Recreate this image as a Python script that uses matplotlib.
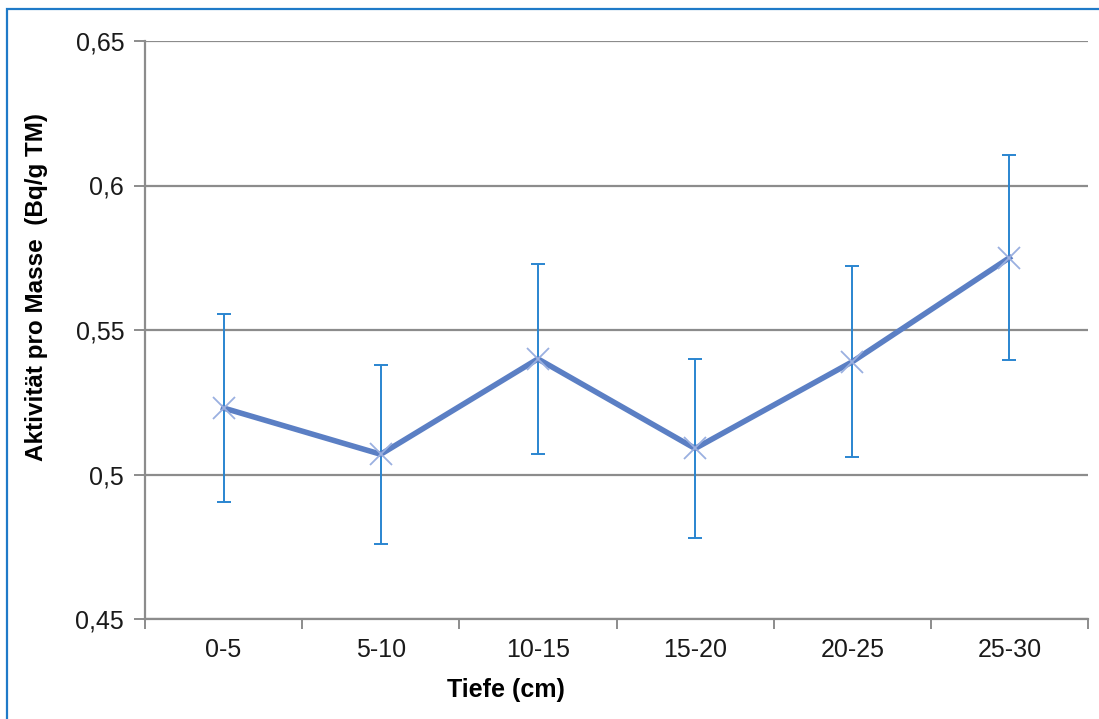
import matplotlib.pyplot as plt
from matplotlib.patches import Rectangle
from matplotlib.ticker import FixedLocator, FuncFormatter

kategorien = ['0-5', '5-10', '10-15', '15-20', '20-25', '25-30']
aktivitaet = [0.523, 0.507, 0.540, 0.509, 0.539, 0.575]
fehler = [0.0325, 0.031, 0.033, 0.031, 0.033, 0.0355]
y_ticks = [0.45, 0.5, 0.55, 0.6, 0.65]

plt.rcParams['font.family'] = ['Liberation Sans', 'DejaVu Sans']

fig = plt.figure(figsize=(10.99, 7.19), dpi=100)
ax = fig.add_axes([145/1099, 1 - 619/719, (1088-145)/1099, (619-41)/719])

# Rahmen um das Diagramm
fig.patches.append(Rectangle((7/1099, -0.05), 1.1, 1 - 9/719 + 0.05,
                             transform=fig.transFigure, fill=False,
                             edgecolor='#1f7ac8', linewidth=1.6))

x = list(range(len(kategorien)))
ax.errorbar(x, aktivitaet, yerr=fehler, fmt='none', ecolor='#2a85d0',
            elinewidth=1.4, capsize=4.7, capthick=1.4, zorder=3)
ax.plot(x, aktivitaet, color='#5b7fc4', linewidth=4.0, zorder=4)
ax.plot(x, aktivitaet, linestyle='none', marker='x', markersize=16,
        markeredgewidth=1.3, color='#9ab0e0', zorder=5)

ax.set_xlim(-0.5, len(kategorien) - 0.5)
ax.set_ylim(0.45, 0.65)
ax.set_yticks(y_ticks)
ax.yaxis.set_major_formatter(FuncFormatter(lambda v, p: f'{v:g}'.replace('.', ',')))
ax.set_xticks(x)
ax.set_xticklabels(kategorien)
ax.xaxis.set_minor_locator(FixedLocator([i + 0.5 for i in range(-1, len(kategorien))]))

ax.grid(axis='y', color='#8c8c8c', linewidth=1.6)
ax.set_axisbelow(True)
for s in ['top', 'right']:
    ax.spines[s].set_visible(False)
for s in ['left', 'bottom']:
    ax.spines[s].set_color('#8c8c8c')
    ax.spines[s].set_linewidth(1.6)

ax.tick_params(axis='x', which='major', length=0, pad=14, labelsize=18, labelcolor='#1a1a1a')
ax.tick_params(axis='x', which='minor', length=7, width=1.4, color='#8c8c8c')
ax.tick_params(axis='y', length=8, width=1.4, color='#8c8c8c', pad=7, labelsize=18,
               labelcolor='#1a1a1a')

ax.set_xlabel('Tiefe (cm)', fontsize=18, fontweight='bold')
ax.xaxis.set_label_coords(0.383, -0.102)
ax.set_ylabel('Aktivität pro Masse  (Bq/g TM)', fontsize=17.5, fontweight='bold')
ax.yaxis.set_label_coords(-0.103, 0.574)

fig.savefig('out.png', dpi=100)
